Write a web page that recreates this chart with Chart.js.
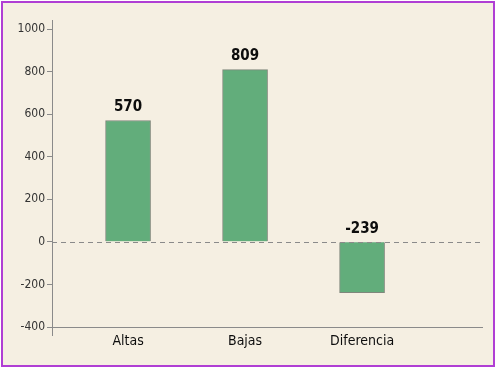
<!DOCTYPE html>
<html>
<head>
<meta charset="utf-8">
<script src="https://cdn.jsdelivr.net/npm/chart.js@4"></script>
<style>
  html, body { margin: 0; padding: 0; background: #ffffff; }
  #wrap {
    position: absolute; left: 1px; top: 1px;
    width: 490px; height: 362px;
    border: 2px solid #b03ed4;
    background: #f5efe2;
  }
  canvas { display: block; }
</style>
</head>
<body>
<div id="wrap"><canvas id="chart" width="490" height="362"></canvas></div>
<script>
// Chart data
const categories = ['Altas', 'Bajas', 'Diferencia'];
const values = [570, 809, -239];
const yMin = -400;
const yMax = 1000;
const yStep = 200;

const FONT = "'Liberation Sans Narrow', 'DejaVu Sans Condensed', 'Liberation Sans', sans-serif";

// Zero line + labels above each bar
const extrasPlugin = {
    id: 'extras',
    afterDatasetsDraw(chart) {
        const ctx = chart.ctx;
        const area = chart.chartArea;
        const y = chart.scales.y;
        const zero = y.getPixelForValue(0);

        ctx.save();
        ctx.strokeStyle = '#8a8a8a';
        ctx.lineWidth = 1;
        ctx.setLineDash([5, 4]);
        ctx.beginPath();
        ctx.moveTo(area.left, Math.round(zero) + 0.5);
        ctx.lineTo(area.right, Math.round(zero) + 0.5);
        ctx.stroke();
        ctx.setLineDash([]);

        // y axis line runs a bit past the plot
        ctx.beginPath();
        ctx.moveTo(area.left + 0.5, area.top - 9);
        ctx.lineTo(area.left + 0.5, area.bottom + 9);
        ctx.stroke();

        const meta = chart.getDatasetMeta(0);
        ctx.fillStyle = '#0d0d0d';
        ctx.font = 'bold 15px ' + FONT;
        ctx.textAlign = 'center';
        ctx.textBaseline = 'bottom';
        meta.data.forEach((bar, i) => {
            const top = Math.min(bar.y, bar.base);
            ctx.fillText(String(values[i]), bar.x, top - 6);
        });
        ctx.restore();
    }
};

new Chart(document.getElementById('chart').getContext('2d'), {
    type: 'bar',
    data: {
        datasets: [{
            data: values.map((v, i) => ({ x: i + 1, y: v })),
            backgroundColor: '#62ad7b',
            borderColor: '#7f877c',
            borderWidth: 1,
            barThickness: 45
        }]
    },
    options: {
        responsive: false,
        animation: false,
        layout: { padding: { top: 26, right: 11, bottom: 0, left: 0 } },
        plugins: {
            legend: { display: false },
            tooltip: { enabled: false }
        },
        scales: {
            x: {
                type: 'linear',
                offset: false,
                min: 0.35,
                max: 4.025,
                afterBuildTicks: scale => {
                    scale.ticks = categories.map((c, i) => ({ value: i + 1 }));
                },
                afterFit: scale => { scale.height = 38; },
                grid: { display: false, drawTicks: false },
                border: { display: true, color: '#8a8a8a', width: 1 },
                ticks: {
                    padding: 6,
                    color: '#0d0d0d',
                    font: { family: FONT, size: 14 },
                    callback: v => categories[v - 1] || ''
                }
            },
            y: {
                min: yMin,
                max: yMax,
                afterFit: scale => { scale.width = 49; },
                grid: {
                    drawOnChartArea: false,
                    drawTicks: true,
                    tickLength: 5,
                    color: '#8a8a8a'
                },
                border: { display: true, color: '#8a8a8a', width: 1 },
                ticks: {
                    stepSize: yStep,
                    padding: 2,
                    color: '#333333',
                    font: { family: FONT, size: 12 },
                    callback: v => String(v)
                }
            }
        }
    },
    plugins: [extrasPlugin]
});
</script>
</body>
</html>
